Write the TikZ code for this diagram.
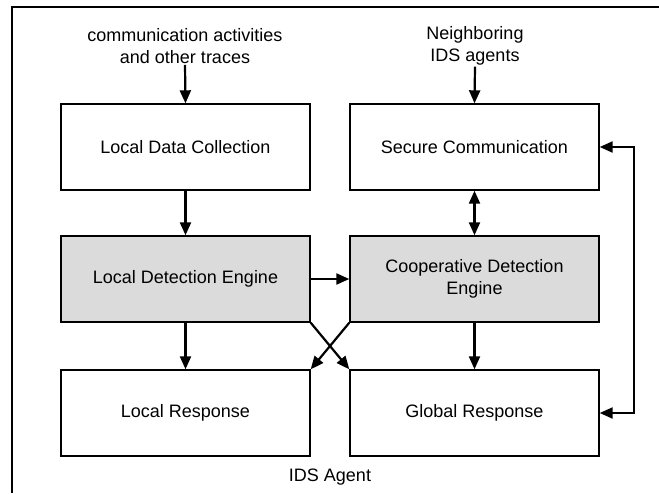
\documentclass[tikz,border=0pt]{standalone}
\usepackage{fontspec}
\setmainfont{Liberation Sans}
\usetikzlibrary{arrows.meta}
\begin{document}
\begin{tikzpicture}[x=1pt,y=-1pt,
  every node/.style={font=\fontsize{18}{22}\selectfont},
  blk/.style={draw, line width=1.4pt, minimum width=249pt, minimum height=86pt, inner sep=0pt, align=center},
  engine/.style={blk, fill=black!14},
  lbl/.style={align=center, inner sep=1pt},
  tip/.style={Triangle[length=13pt,width=11pt]},
  flow/.style={line width=2.2pt, -{Triangle[length=13pt,width=11pt]}},
  both/.style={line width=2.2pt, {Triangle[length=13pt,width=11pt]}-{Triangle[length=13pt,width=11pt]}}]
  \useasboundingbox (0,0) rectangle (659,493);
  \fill[white] (0,0) rectangle (659,493);
  % agent frame
  \draw[line width=1.1pt] (12,493) -- (12,7) -- (659,7);

  % boxes
  \node[blk]    (ldc) at (185.5,147) {Local Data Collection};
  \node[blk]    (sc)  at (474.5,147) {Secure Communication};
  \node[engine] (lde) at (185.5,279) {Local Detection Engine};
  \node[engine] (cde) at (474.5,279) {Cooperative Detection\\Engine};
  \node[blk]    (lr)  at (185.5,413) {Local Response};
  \node[blk]    (gr)  at (474.5,413) {Global Response};

  % inputs
  \node[lbl] (in1) at (185,46) {communication activities\\and other traces};
  \node[lbl] (in2) at (475,46) {Neighboring\\IDS agents};
  \node (agent) at (330,477) {IDS Agent};

  % connectors
  \draw[flow] (in1.south) -- (ldc.north);
  \draw[flow] (in2.south) -- (sc.north);
  \draw[flow] (ldc.south) -- (lde.north);
  \draw[both] (sc.south) -- (cde.north);
  \draw[flow] (lde.east) -- (cde.west);
  \draw[flow] (lde.south) -- (lr.north);
  \draw[flow] (cde.south) -- (gr.north);
  \draw[flow] (lde.south east) -- (gr.north west);
  \draw[flow] (cde.south west) -- (lr.north east);
  \draw[both] (sc.east) -- ++(34,0) |- (gr.east);
\end{tikzpicture}
\end{document}
